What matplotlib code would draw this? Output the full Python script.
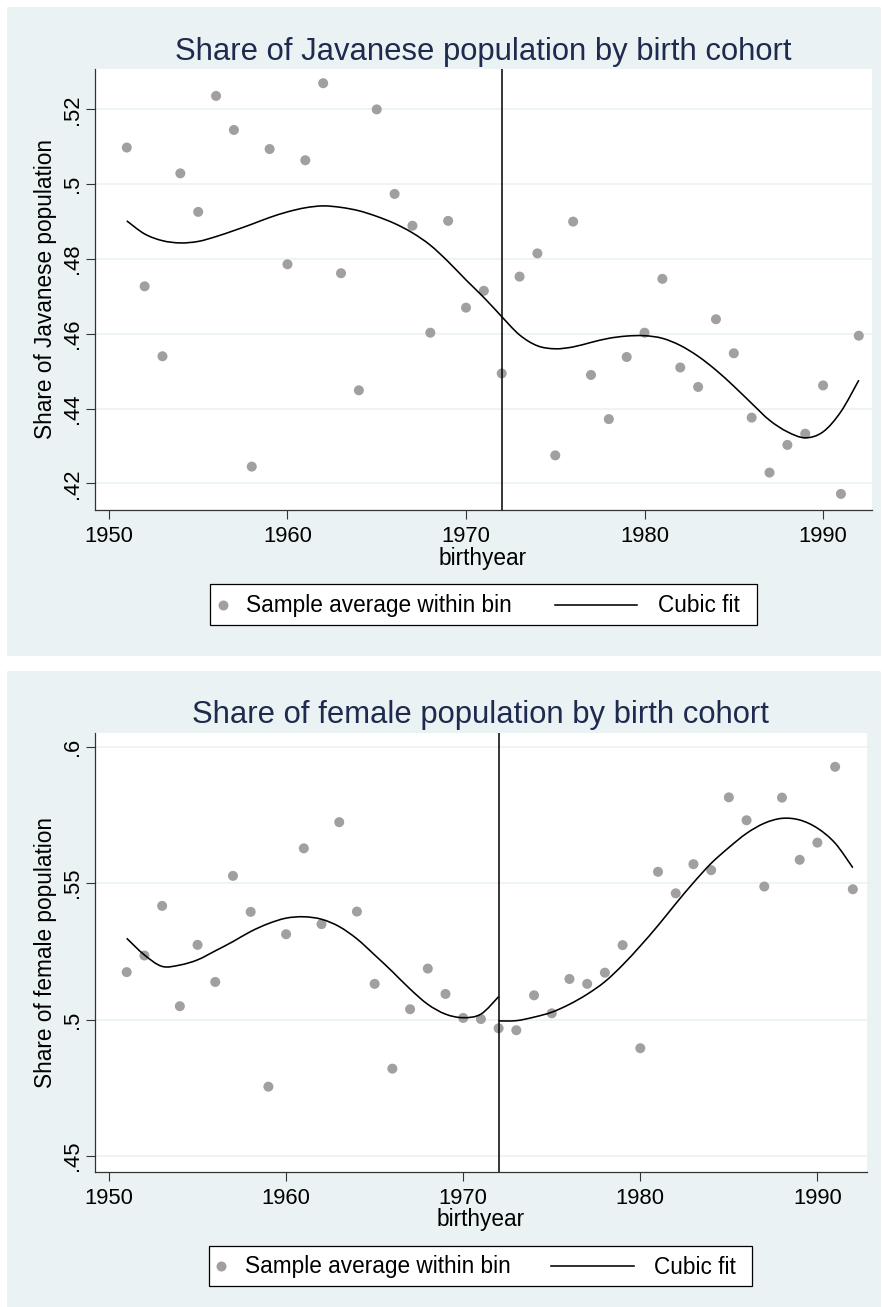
import numpy as np
import matplotlib
matplotlib.use('Agg')
from matplotlib import pyplot as plt
from matplotlib.patches import Rectangle, PathPatch
from matplotlib.path import Path
from matplotlib.lines import Line2D

plt.rcParams['font.family'] = ['Liberation Sans', 'DejaVu Sans']

# data
years = np.arange(1951, 1993)
cutoff = 1972
fit_years_left = np.arange(1951, 1973)
fit_years_right = np.arange(1972, 1993)

javanese_share = [0.5098, 0.4727, 0.4540, 0.5029, 0.4926, 0.5236, 0.5145, 0.4245, 0.5094, 0.4786,
                  0.5064, 0.5270, 0.4762, 0.4449, 0.5200, 0.4974, 0.4889, 0.4603, 0.4902, 0.4670,
                  0.4715, 0.4494, 0.4753, 0.4815, 0.4275, 0.4900, 0.4490, 0.4372, 0.4538, 0.4603,
                  0.4747, 0.4510, 0.4458, 0.4639, 0.4548, 0.4376, 0.4229, 0.4303, 0.4333, 0.4462,
                  0.4172, 0.4595]
javanese_fit_left = [0.4902, 0.4867, 0.4849, 0.4843, 0.4847, 0.4860, 0.4876, 0.4893, 0.4911, 0.4926,
                     0.4937, 0.4942, 0.4938, 0.4929, 0.4914, 0.4895, 0.4870, 0.4837, 0.4793, 0.4744,
                     0.4697, 0.4646]
javanese_fit_right = [0.4646, 0.4597, 0.4568, 0.4560, 0.4565, 0.4577, 0.4588, 0.4594, 0.4595, 0.4588,
                      0.4569, 0.4540, 0.4503, 0.4460, 0.4414, 0.4369, 0.4338, 0.4322, 0.4338, 0.4392,
                      0.4476]

female_share = [0.5174, 0.5235, 0.5417, 0.5049, 0.5274, 0.5138, 0.5527, 0.5395, 0.4754, 0.5313,
                0.5628, 0.5350, 0.5724, 0.5396, 0.5131, 0.4820, 0.5038, 0.5187, 0.5094, 0.5006,
                0.5002, 0.4968, 0.4961, 0.5089, 0.5023, 0.5149, 0.5131, 0.5172, 0.5273, 0.4895,
                0.5542, 0.5463, 0.5570, 0.5548, 0.5815, 0.5731, 0.5488, 0.5814, 0.5586, 0.5649,
                0.5927, 0.5478]
female_fit_left = [0.5298, 0.5237, 0.5195, 0.5200, 0.5219, 0.5252, 0.5286, 0.5323, 0.5352, 0.5372,
                   0.5377, 0.5368, 0.5341, 0.5296, 0.5237, 0.5176, 0.5112, 0.5056, 0.5020, 0.5007,
                   0.5020, 0.5084]
female_fit_right = [0.4995, 0.4996, 0.5009, 0.5027, 0.5056, 0.5093, 0.5139, 0.5200, 0.5270, 0.5345,
                    0.5425, 0.5502, 0.5573, 0.5631, 0.5683, 0.5720, 0.5738, 0.5732, 0.5702, 0.5647,
                    0.5557]

xticks = [1950, 1960, 1970, 1980, 1990]
jav_yticks = [0.42, 0.44, 0.46, 0.48, 0.50, 0.52]
jav_ylabels = ['.42', '.44', '.46', '.48', '.5', '.52']
fem_yticks = [0.45, 0.50, 0.55, 0.60]
fem_ylabels = ['.45', '.5', '.55', '.6']

W, H = 882, 1307
bg = '#eaf2f3'
dot_col = '#a0a0a0'
title_col = '#1e2a4e'
axis_col = '#333333'


def fx(x):
    return x / W


def fy(y):
    return 1 - y / H


def smooth_line(ax, xs, ys):
    # draw the read fit values as a smooth bezier path (catmull-rom) through every point
    p = np.column_stack([xs, ys]).astype(float)
    ext = np.vstack([p[0], p, p[-1]])
    verts = [p[0]]
    codes = [Path.MOVETO]
    for i in range(len(p) - 1):
        c1 = ext[i + 1] + (ext[i + 2] - ext[i]) / 6
        c2 = ext[i + 2] - (ext[i + 3] - ext[i + 1]) / 6
        verts += [c1, c2, ext[i + 2]]
        codes += [Path.CURVE4] * 3
    ax.add_patch(PathPatch(Path(verts, codes), facecolor='none', edgecolor='black', lw=1.15, zorder=3))


fig = plt.figure(figsize=(W / 100, H / 100), dpi=100)


def draw_panel(L, title, ylabel, share, fit_l, fit_r, yticks, ylabels):
    x0, y0, x1, y1 = L['bg']
    fig.add_artist(Rectangle((fx(x0), fy(y1)), fx(x1) - fx(x0), fy(y0) - fy(y1),
                             transform=fig.transFigure, facecolor=bg, edgecolor='none', zorder=-1))
    a0, b0, a1, b1 = L['ax']
    ax = fig.add_axes([fx(a0), fy(b1), fx(a1) - fx(a0), fy(b0) - fy(b1)])
    ax.set_facecolor('white')

    for t in yticks:
        ax.axhline(t, color=bg, lw=1.2, zorder=0)
    ax.scatter(years, share, s=52, color=dot_col, edgecolors='none', zorder=2)
    smooth_line(ax, fit_years_left, fit_l)
    smooth_line(ax, fit_years_right, fit_r)
    ax.axvline(cutoff, color='black', lw=1.1, zorder=3)
    ax.set_xlim(*L['xlim'])
    ax.set_ylim(*L['ylim'])

    for s in ['top', 'right']:
        ax.spines[s].set_visible(False)
    for s in ['left', 'bottom']:
        ax.spines[s].set_color(axis_col)
        ax.spines[s].set_linewidth(0.9)
    ax.set_xticks(xticks)
    ax.set_xticklabels([str(v) for v in xticks])
    ax.set_yticks(yticks)
    ax.set_yticklabels(ylabels, rotation=90, va='center')
    ax.tick_params(axis='both', length=6.5, width=0.8, color=axis_col, labelsize=15.8)
    ax.tick_params(axis='x', pad=5)
    ax.tick_params(axis='y', pad=2.5)

    tx, ty = L['title_xy']
    fig.text(fx(tx), fy(ty), title, ha='center', va='baseline', fontsize=22.3, color=title_col)
    lx, ly = L['xlabel_xy']
    fig.text(fx(lx), fy(ly), 'birthyear', ha='center', va='baseline', fontsize=16.3)
    yx, yy = L['ylabel_xy']
    fig.text(fx(yx), fy(yy), ylabel, ha='center', va='center', rotation=90, fontsize=16.3)

    # legend box
    g0, h0, g1, h1 = L['leg_box']
    fig.add_artist(Rectangle((fx(g0), fy(h1)), fx(g1) - fx(g0), fy(h0) - fy(h1),
                             transform=fig.transFigure, facecolor='white', edgecolor='black', lw=0.9))
    cy = (h0 + h1) / 2
    fig.add_artist(Line2D([fx(L['dot_x'])], [fy(cy)], marker='o', ms=7.2, color=dot_col,
                          markeredgecolor='none', linestyle='none', transform=fig.transFigure))
    fig.text(fx(L['text1_x']), fy(L['text_base']), 'Sample average within bin',
             ha='left', va='baseline', fontsize=16.3)
    lx0, lx1 = L['line_x']
    fig.add_artist(Line2D([fx(lx0), fx(lx1)], [fy(cy), fy(cy)], color='black', lw=1.15,
                          transform=fig.transFigure))
    fig.text(fx(L['text2_x']), fy(L['text_base']), 'Cubic fit', ha='left', va='baseline', fontsize=16.3)
    return ax


top = dict(bg=(7, 7, 881, 656), ax=(95, 69, 872, 510), xlim=(1949.22, 1992.74), ylim=(0.4129, 0.5308),
           title_xy=(483.2, 60), xlabel_xy=(483, 564.5), ylabel_xy=(46, 289.5),
           leg_box=(210, 584.3, 756.5, 625.4), dot_x=222.7, text1_x=245.8, line_x=(554.6, 637),
           text2_x=658, text_base=612.3)
bottom = dict(bg=(7, 671, 881, 1307), ax=(95, 733, 867, 1172), xlim=(1949.21, 1992.80), ylim=(0.4441, 0.6051),
              title_xy=(480.5, 722.7), xlabel_xy=(480.6, 1226), ylabel_xy=(46, 952.5),
              leg_box=(209.2, 1245.6, 752, 1286.4), dot_x=221, text1_x=244.7, line_x=(551, 634),
              text2_x=654, text_base=1273.5)

draw_panel(top, 'Share of Javanese population by birth cohort', 'Share of Javanese population',
           javanese_share, javanese_fit_left, javanese_fit_right, jav_yticks, jav_ylabels)
draw_panel(bottom, 'Share of female population by birth cohort', 'Share of female population',
           female_share, female_fit_left, female_fit_right, fem_yticks, fem_ylabels)

fig.savefig('out.png', dpi=100)
